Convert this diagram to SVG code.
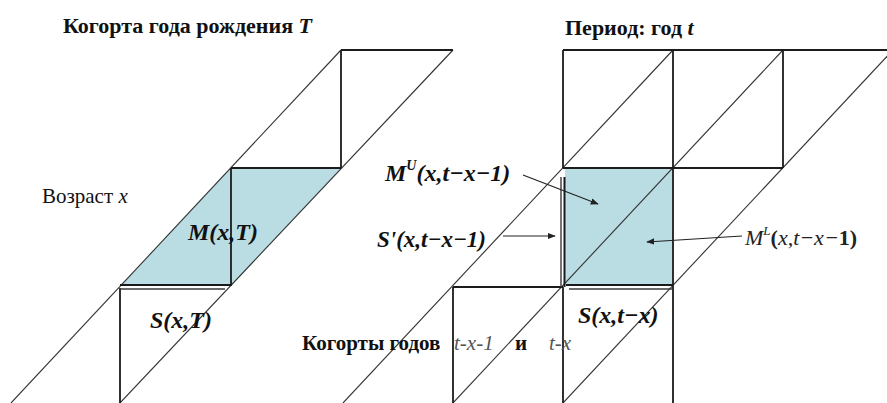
<svg xmlns="http://www.w3.org/2000/svg" width="887" height="403" viewBox="0 0 887 403">
<defs>
<style>
.grid{stroke:#1c1c1c;stroke-width:1.8;fill:none}
.diag{stroke:#333;stroke-width:1.1;fill:none}
.shade{fill:#b9dde3;stroke:none}
.dk{stroke:#1a1a1a;stroke-width:2;fill:none}
.gr{stroke:#3a3a3a;stroke-width:1.4;fill:none}
.conn{stroke:#222;stroke-width:1.2;fill:none}
</style>
<marker id="ah" viewBox="0 0 10 10" refX="9" refY="5" markerWidth="8" markerHeight="8" orient="auto" markerUnits="userSpaceOnUse">
<path d="M0,1 L10,5 L0,9 Z" fill="#222"/>
</marker>
</defs>
<rect width="887" height="403" fill="#fff"/>

<g id="cohort-diagram">
<polygon class="shade" points="231,168 341,168 231,286 120,286"/>
<path class="diag" d="M11,403 L341,50"/>
<path class="diag" d="M120,403 L453,50"/>
<path class="grid" d="M341,50 H453 M341,50 V168 M231,168 H341 M231,168 V286 M120,288 V403"/>
<path class="dk" d="M120,285 H231"/>
<path class="gr" d="M120,289 H225"/>
</g>

<g id="period-diagram">
<rect class="shade" x="565" y="168" width="108" height="117"/>
<path class="diag" d="M343,403 L673,50"/>
<path class="diag" d="M453,403 L783,50"/>
<path class="diag" d="M563,403 L893,50"/>
<path class="grid" d="M563,50 H887 M563,50 V168 M673,50 V168 M783,50 V168 M563,168 H783 M673,168 V287 M453,287 H563 M453,287 V403 M563,287 V403 M673,287 V403"/>
<path class="gr" d="M561,177 V287"/>
<path class="dk" d="M564.5,177 V287"/>
<path class="dk" d="M566,285 H673"/>
<path class="gr" d="M569,289 H673"/>
</g>

<g id="title-cohort"><text x="63" y="33" font-size="22" font-weight="bold" fill="#111" font-family="Liberation Serif">Когорта года рождения <tspan font-style="italic">T</tspan></text></g>
<g id="title-period"><text x="565" y="35" font-size="22" font-weight="bold" fill="#111" font-family="Liberation Serif">Период: год <tspan font-style="italic">t</tspan></text></g>
<g id="label-age"><text x="42" y="203" font-size="21" fill="#111" font-family="Liberation Serif">Возраст <tspan font-style="italic">x</tspan></text></g>
<g id="label-MxT"><text x="188" y="240" font-size="24" font-weight="bold" font-style="italic" fill="#111" font-family="Liberation Serif">M(x,T)</text></g>
<g id="label-SxT"><text x="150" y="328" font-size="24" font-weight="bold" font-style="italic" fill="#111" font-family="Liberation Serif">S(x,T)</text></g>
<g id="label-MU"><text x="385" y="181" font-size="24" font-weight="bold" font-style="italic" fill="#111" font-family="Liberation Serif">M<tspan font-size="14" dy="-11">U</tspan><tspan dy="11">(x,t−x−1)</tspan></text></g>
<g id="label-Sprime"><text x="377" y="247" font-size="23" font-weight="bold" font-style="italic" fill="#111" font-family="Liberation Serif">S'(x,t−x−1)</text></g>
<g id="label-ML"><text x="745" y="245" font-size="22" font-style="italic" fill="#222" font-family="Liberation Serif">M<tspan font-size="13" dy="-10">L</tspan><tspan dy="10" font-weight="bold" font-style="normal">(</tspan>x,t−x−<tspan font-weight="bold" font-style="normal">1)</tspan></text></g>
<g id="label-Sxtx"><text x="578" y="323" font-size="24" font-weight="bold" font-style="italic" fill="#111" font-family="Liberation Serif">S(x,t−x)</text></g>
<g id="label-cohorts">
<text x="302" y="350" font-size="21" font-weight="bold" fill="#111" font-family="Liberation Serif">Когорты годов</text>
<text x="454" y="350" font-size="21" font-style="italic" fill="#555" font-family="Liberation Serif">t-x-1</text>
<text x="515" y="350" font-size="21" font-weight="bold" fill="#111" font-family="Liberation Serif">и</text>
<text x="549" y="350" font-size="21" font-style="italic" fill="#555" font-family="Liberation Serif">t-x</text>
</g>

<g id="connectors">
<line class="conn" x1="523" y1="175" x2="598" y2="204" marker-end="url(#ah)"/>
<line class="conn" x1="503" y1="236" x2="555" y2="236" marker-end="url(#ah)"/>
<line class="conn" x1="742" y1="236" x2="647" y2="242" marker-end="url(#ah)"/>
</g>
</svg>
